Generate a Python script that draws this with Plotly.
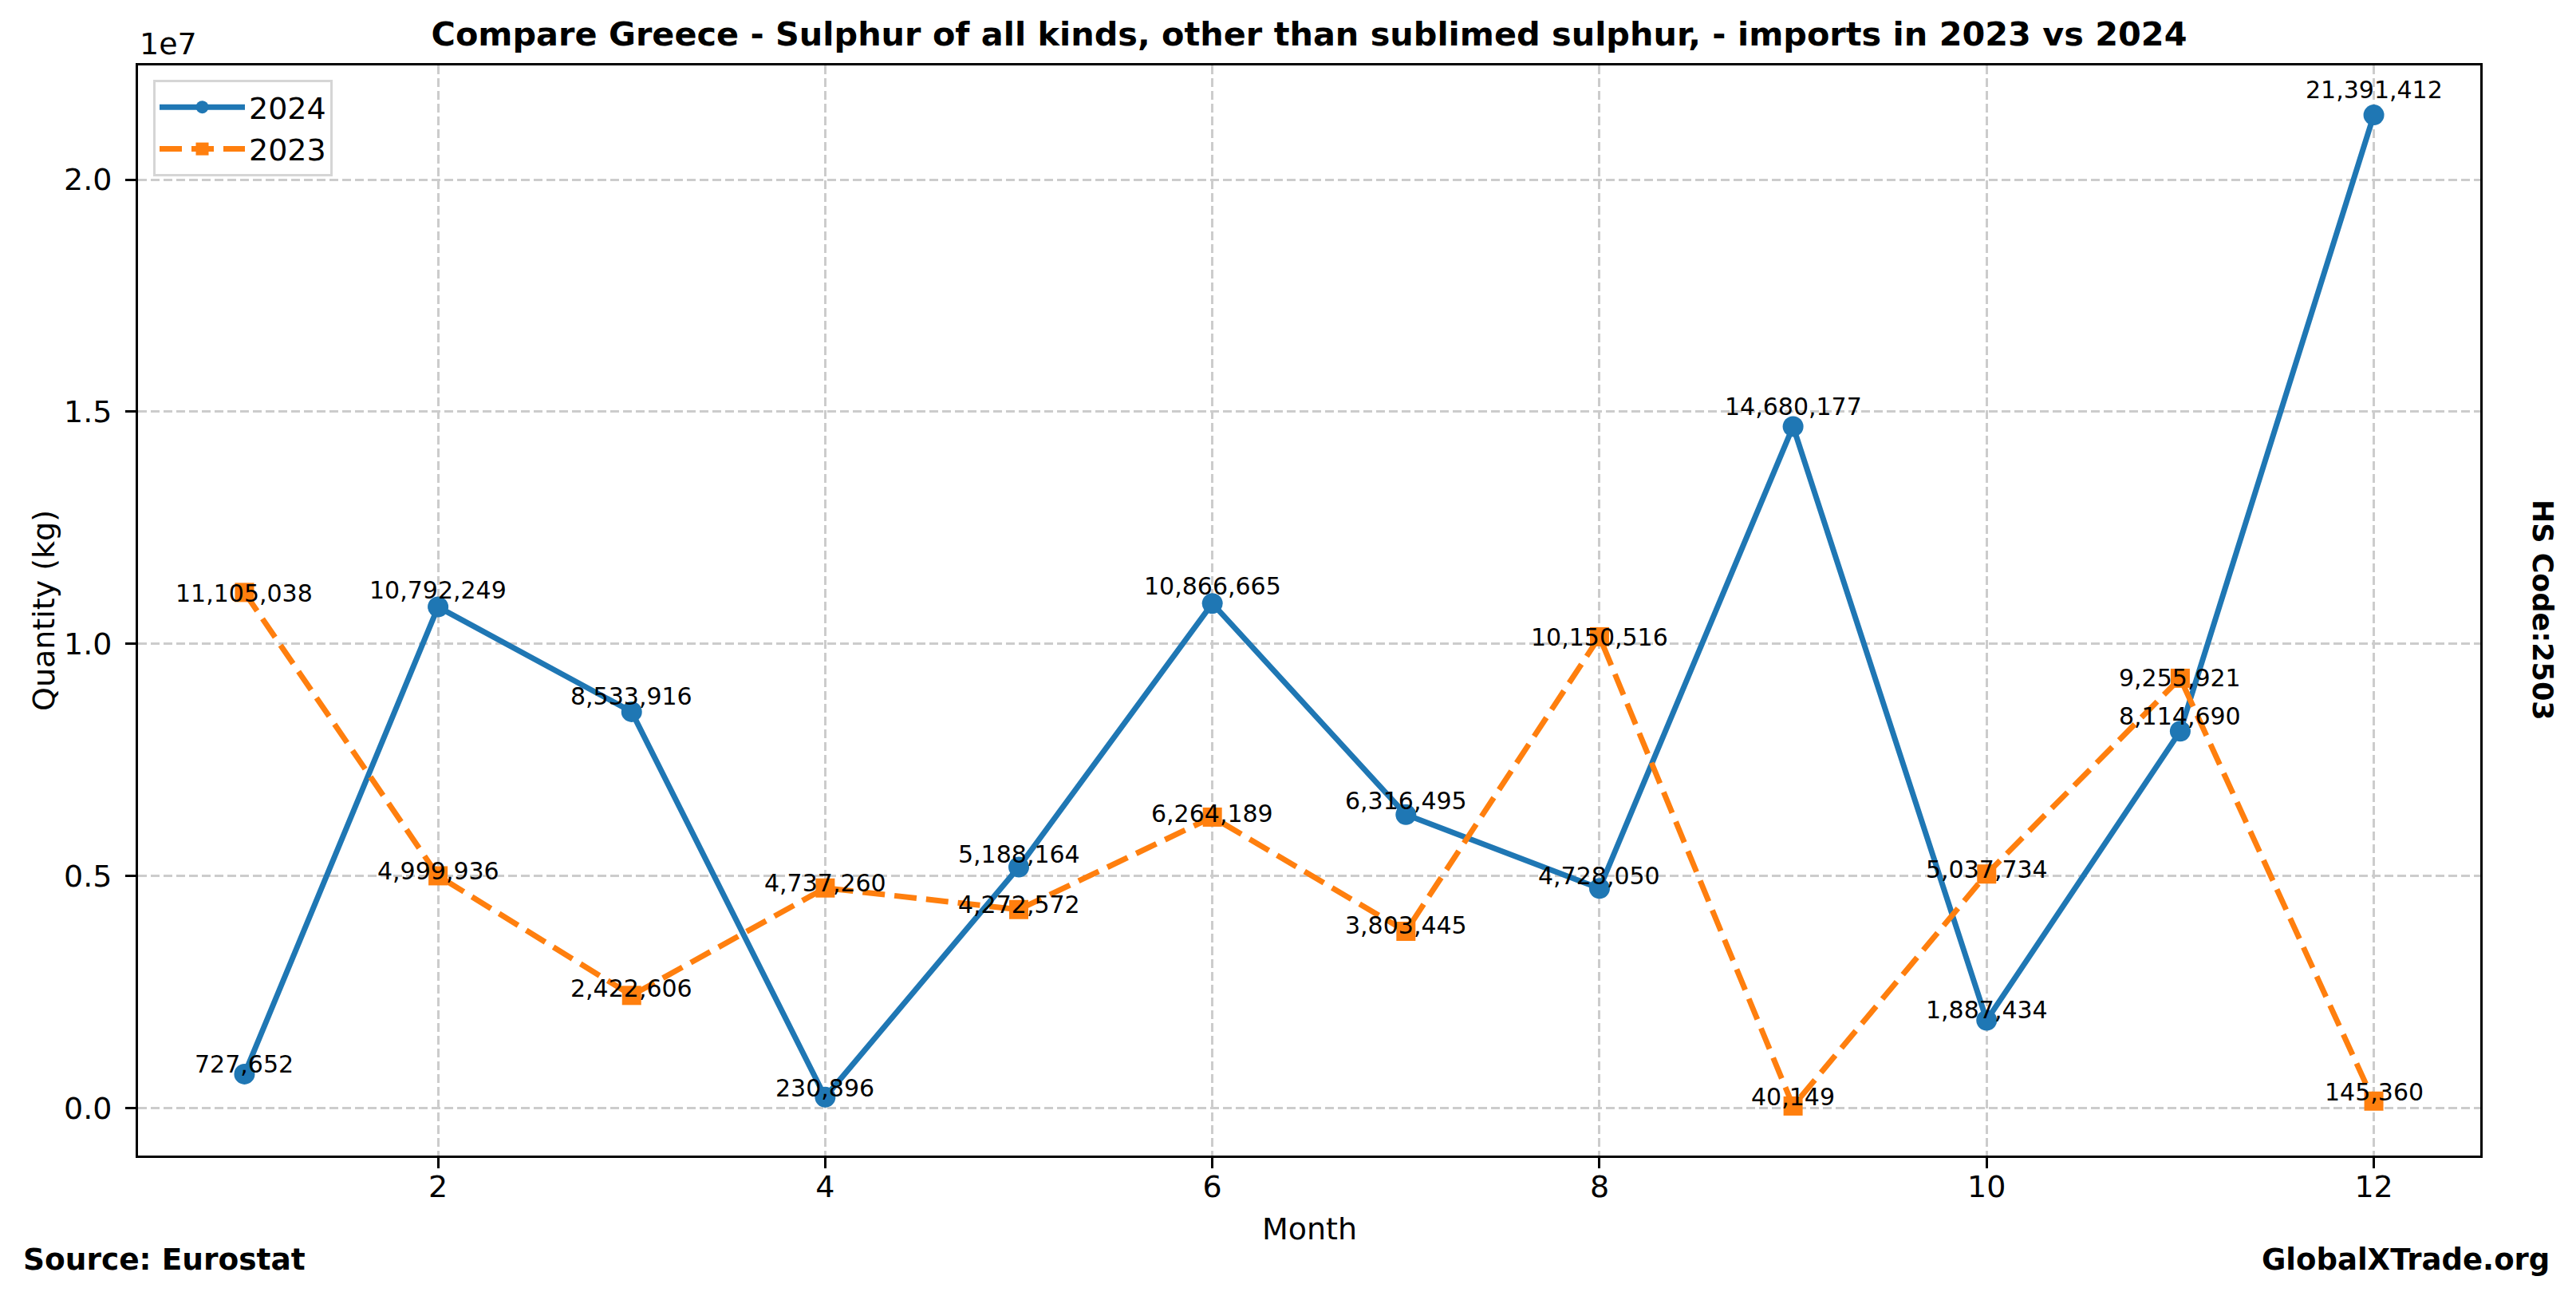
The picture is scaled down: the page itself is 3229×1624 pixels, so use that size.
import plotly.graph_objects as go

months = [1, 2, 3, 4, 5, 6, 7, 8, 9, 10, 11, 12]
values_2024 = [727652, 10792249, 8533916, 230896, 5188164, 10866665,
               6316495, 4728050, 14680177, 1887434, 8114690, 21391412]
values_2023 = [11105038, 4999936, 2422606, 4737260, 4272572, 6264189,
               3803445, 10150516, 40149, 5037734, 9255921, 145360]
y_tick_vals = [0, 5e6, 1e7, 1.5e7, 2e7]
y_tick_text = ["0.0", "0.5", "1.0", "1.5", "2.0"]
x_tick_vals = [2, 4, 6, 8, 10, 12]

FONT = "DejaVu Sans"
BLUE = "#1f77b4"
ORANGE = "#ff7f0e"

W, H = 3229, 1624
L, R, T, B = 173, 3109, 82, 1448
pw, ph = R - L, B - T


def px_x(px):
    return (px - L) / pw


def px_y(py):
    return (B - py) / ph


fig = go.Figure()
fig.add_trace(go.Scatter(
    x=months, y=values_2024, name="2024", mode="lines+markers",
    line=dict(color=BLUE, width=7),
    marker=dict(symbol="circle", size=26, color=BLUE),
))
fig.add_trace(go.Scatter(
    x=months, y=values_2023, name="2023", mode="lines+markers",
    line=dict(color=ORANGE, width=7, dash="28px,12px"),
    marker=dict(symbol="square", size=24, color=ORANGE),
))

annotations = []
# value labels: text baseline placed relative to the value (above for 2024, below for 2023)
for ys, factor in ((values_2024, 1.016), (values_2023, 0.98)):
    for xv, yv in zip(months, ys):
        annotations.append(dict(
            x=xv, y=yv * factor, xref="x", yref="y", text=f"{yv:,}", showarrow=False,
            xanchor="center", yanchor="bottom", yshift=-8,
            font=dict(family=FONT, size=30, color="black"),
        ))

annotations += [
    dict(x=0, y=px_y(55), xref="paper", yref="paper", text="1e7", showarrow=False,
         xanchor="left", yanchor="middle", font=dict(family=FONT, size=38, color="black")),
    dict(x=px_x(55), y=0.5, xref="paper", yref="paper", text="Quantity (kg)", showarrow=False,
         textangle=-90, xanchor="center", yanchor="middle",
         font=dict(family=FONT, size=38, color="black")),
    dict(x=0.5, y=px_y(1540), xref="paper", yref="paper", text="Month", showarrow=False,
         xanchor="center", yanchor="middle", font=dict(family=FONT, size=38, color="black")),
    dict(x=px_x(27), y=px_y(1578), xref="paper", yref="paper", text="Source: Eurostat",
         showarrow=False, xanchor="left", yanchor="middle",
         font=dict(family=FONT, size=37.5, color="black", weight="bold")),
    dict(x=px_x(3198), y=px_y(1578), xref="paper", yref="paper", text="GlobalXTrade.org",
         showarrow=False, xanchor="right", yanchor="middle",
         font=dict(family=FONT, size=37, color="black", weight="bold")),
    dict(x=px_x(3187), y=px_y(764), xref="paper", yref="paper", text="HS Code:2503",
         showarrow=False, textangle=90, xanchor="center", yanchor="middle",
         font=dict(family=FONT, size=35, color="black", weight="bold")),
]

axis_common = dict(
    showline=True, mirror=True, linecolor="black", linewidth=3,
    ticks="outside", ticklen=13, tickwidth=3, tickcolor="black",
    showgrid=True, gridcolor="#cccccc", gridwidth=2.5, griddash="11px,5px",
    zeroline=False, tickfont=dict(family=FONT, size=38, color="black"),
)

fig.update_layout(
    width=W, height=H, autosize=False,
    margin=dict(l=L, r=W - R, t=T, b=H - B, pad=0),
    paper_bgcolor="white", plot_bgcolor="white",
    title=dict(text="Compare Greece - Sulphur of all kinds, other than sublimed sulphur, - imports in 2023 vs 2024",
               x=0.5, xref="paper", xanchor="center",
               y=1 - 43 / H, yref="container", yanchor="middle",
               font=dict(family=FONT, size=41.4, color="black", weight="bold")),
    xaxis=dict(range=[0.45, 12.55], tickvals=x_tick_vals, ticklabelstandoff=-10, **axis_common),
    yaxis=dict(range=[-1027414, 22458975], tickvals=y_tick_vals, ticktext=y_tick_text,
               ticklabelstandoff=9, **axis_common),
    legend=dict(x=px_x(192), y=px_y(100), xanchor="left", yanchor="top",
                bgcolor="white", bordercolor="#d5d5d5", borderwidth=3,
                font=dict(family=FONT, size=38, color="black"),
                itemwidth=107, tracegroupgap=0),
    annotations=annotations,
    showlegend=True,
)

fig.write_html("out.html", config={"displayModeBar": False},
               post_script="document.body.style.margin='0';document.body.style.overflow='hidden';")
